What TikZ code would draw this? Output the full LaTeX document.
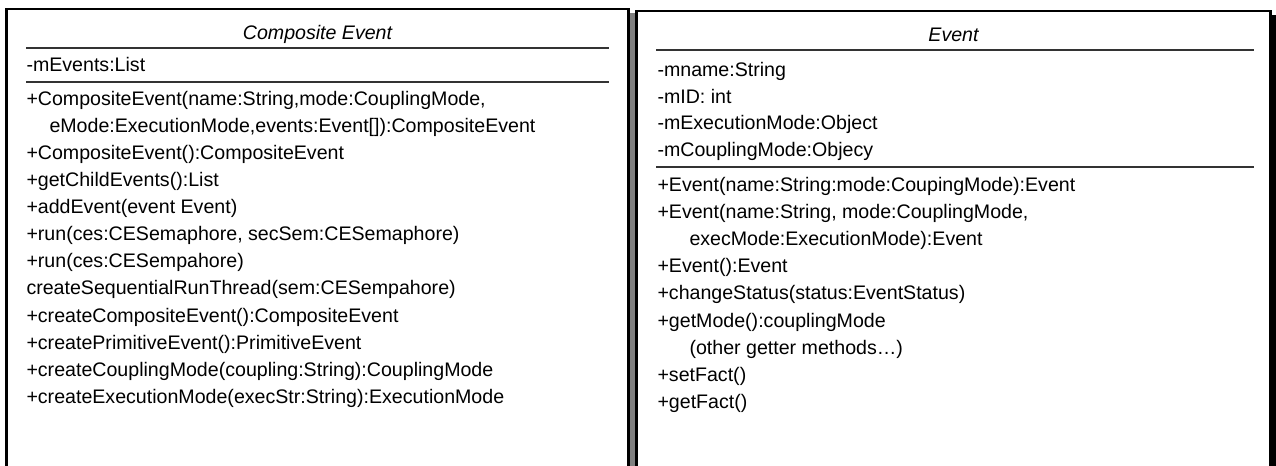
\documentclass[tikz,border=0pt]{standalone}
\usepackage{fontspec}
\setmainfont{Liberation Sans}

\tikzset{every picture/.style={line width=0.75pt}}
\tikzset{
  member/.style={anchor=base west,inner sep=0pt,font=\fontsize{14.7}{17}\selectfont},
  classname/.style={anchor=base,inner sep=0pt,font=\fontsize{14.7}{17}\selectfont\itshape},
  divider/.style={color={rgb, 255:red, 51; green, 51; blue, 51 },line width=1.5},
  frame/.style={color=black,line width=1.75}
}

\begin{document}
\begin{tikzpicture}[x=0.75pt,y=0.75pt,yscale=-1,xscale=1]
\useasboundingbox (0,0) rectangle (1276,466);

%Shadow strips
\fill [color={rgb, 255:red, 128; green, 128; blue, 128 }] (629.5,13) rectangle (636,470) ;
\fill [color=black] (1271,15) rectangle (1276,470) ;

%Class frame: Composite Event
\draw [frame] (6.5,470) -- (6.5,8.8) -- (628.6,8.8) -- (628.6,470) ;
%Class frame: Event
\draw [frame] (636.4,470) -- (636.4,11.2) -- (1270.5,11.2) -- (1270.5,470) ;

%Dividers
\draw [divider] (26,48) -- (609,48) ;
\draw [divider] (26,82) -- (609,82) ;
\draw [divider] (656,50) -- (1254,50) ;
\draw [divider] (656,167) -- (1254,167) ;

% Text Node
\draw (317.5,40) node [classname] (ceTitle) {Composite Event};
% Text Node
\draw (26,72) node [member] (ceAttr) {-mEvents:List};
% Text Node
\draw (26,106) node [member] (ceOp1) {+CompositeEvent(name:String,mode:CouplingMode,};
% Text Node
\draw (49,133) node [member] (ceOp2) {eMode:ExecutionMode,events:Event[]):CompositeEvent};
% Text Node
\draw (26,160) node [member] (ceOp3) {+CompositeEvent():CompositeEvent};
% Text Node
\draw (26,187) node [member] (ceOp4) {+getChildEvents():List};
% Text Node
\draw (26,214) node [member] (ceOp5) {+addEvent(event Event)};
% Text Node
\draw (26,241) node [member] (ceOp6) {+run(ces:CESemaphore, secSem:CESemaphore)};
% Text Node
\draw (26,268) node [member] (ceOp7) {+run(ces:CESempahore)};
% Text Node
\draw (26,295) node [member] (ceOp8) {createSequentialRunThread(sem:CESempahore)};
% Text Node
\draw (26,322) node [member] (ceOp9) {+createCompositeEvent():CompositeEvent};
% Text Node
\draw (26,349) node [member] (ceOp10) {+createPrimitiveEvent():PrimitiveEvent};
% Text Node
\draw (26,376) node [member] (ceOp11) {+createCouplingMode(coupling:String):CouplingMode};
% Text Node
\draw (26,403) node [member] (ceOp12) {+createExecutionMode(execStr:String):ExecutionMode};

% Text Node
\draw (953.5,42) node [classname] (evTitle) {Event};
% Text Node
\draw (657,77) node [member] (evAttr1) {-mname:String};
% Text Node
\draw (657,103.5) node [member] (evAttr2) {-mID: int};
% Text Node
\draw (657,130) node [member] (evAttr3) {-mExecutionMode:Object};
% Text Node
\draw (657,156.5) node [member] (evAttr4) {-mCouplingMode:Objecy};
% Text Node
\draw (657,192) node [member] (evOp1) {+Event(name:String:mode:CoupingMode):Event};
% Text Node
\draw (657,219) node [member] (evOp2) {+Event(name:String, mode:CouplingMode,};
% Text Node
\draw (689,246) node [member] (evOp3) {execMode:ExecutionMode):Event};
% Text Node
\draw (657,273) node [member] (evOp4) {+Event():Event};
% Text Node
\draw (657,300) node [member] (evOp5) {+changeStatus(status:EventStatus)};
% Text Node
\draw (657,327) node [member] (evOp6) {+getMode():couplingMode};
% Text Node
\draw (689,354) node [member] (evOp7) {(other getter methods…)};
% Text Node
\draw (657,381) node [member] (evOp8) {+setFact()};
% Text Node
\draw (657,408) node [member] (evOp9) {+getFact()};

\end{tikzpicture}
\end{document}
